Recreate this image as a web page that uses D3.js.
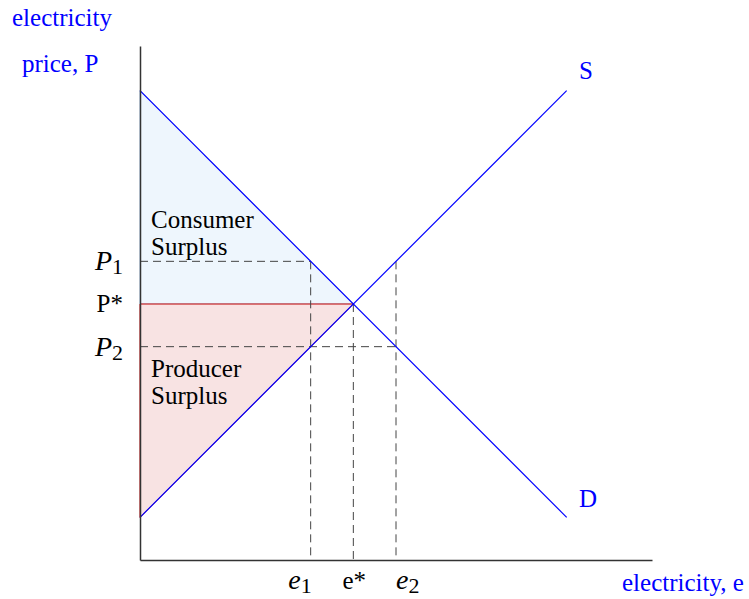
<!DOCTYPE html>
<html>
<head>
<meta charset="utf-8">
<script src="https://cdn.jsdelivr.net/npm/d3@7"></script>
<style>
  body { margin: 0; background: #fff; }
  svg text { font-family: "Liberation Serif", "Times New Roman", serif; }
</style>
</head>
<body>
<div id="chart"></div>
<script>
// supply / demand data (quantity e, price P)
const demand = [[0, 10], [10, 0]];
const supply = [[0, 0], [10, 10]];
const eqQty = 5;
const eqPrice = 5;
const p1 = 6;   // price above equilibrium
const p2 = 4;   // price below equilibrium
const qtyTicks = [4, 5, 6];
const qtyLabels = [['e', '1'], ['e*', ''], ['e', '2']];
const priceTicks = [6, 5, 4];
const priceLabels = [['P', '1'], ['P*', ''], ['P', '2']];

const width = 749, height = 599;
const svg = d3.select('#chart').append('svg')
  .attr('width', width).attr('height', height);

const x = d3.scaleLinear().domain([0, 12]).range([140, 652]);
const y = d3.scaleLinear().domain([-1, 11]).range([560, 48]);

const line = d3.line().x(d => x(d[0])).y(d => y(d[1]));

// consumer surplus
svg.append('path')
  .attr('d', line([[0, demand[0][1]], [eqQty, eqPrice], [0, eqPrice]]) + 'Z')
  .attr('fill', '#eef6fd')
  .attr('stroke', '#a9c6e8')
  .attr('stroke-width', 1);

// producer surplus
svg.append('path')
  .attr('d', line([[0, eqPrice], [eqQty, eqPrice], [0, supply[0][1]]]) + 'Z')
  .attr('fill', '#f8e3e3')
  .attr('stroke', '#c00000')
  .attr('stroke-width', 1);

// dashed guides
const dashes = [
  [[0, p1], [qtyTicks[0], p1]],
  [[qtyTicks[0], p1], [qtyTicks[0], -1]],
  [[qtyTicks[2], p1], [qtyTicks[2], -1]],
  [[0, p2], [qtyTicks[2], p2]],
  [[eqQty, eqPrice], [eqQty, -1]]
];
svg.selectAll('.dash')
  .data(dashes)
  .enter()
  .append('path')
  .attr('class', 'dash')
  .attr('d', d => line(d))
  .attr('fill', 'none')
  .attr('stroke', '#444')
  .attr('stroke-width', 1)
  .attr('stroke-dasharray', '8,5');

// supply and demand curves
svg.selectAll('.curve')
  .data([demand, supply])
  .enter()
  .append('path')
  .attr('class', 'curve')
  .attr('d', d => line(d))
  .attr('fill', 'none')
  .attr('stroke', '#0000ff')
  .attr('stroke-width', 1.2);

// axes (plain lines, no ticks)
svg.append('g')
  .attr('transform', `translate(0,${y(-1)})`)
  .call(d3.axisBottom(x).tickValues([]).tickSizeOuter(0))
  .select('.domain').attr('stroke', '#333').attr('stroke-width', 1.5);
svg.append('g')
  .attr('transform', `translate(${x(0)},0)`)
  .call(d3.axisLeft(y.copy().range([560, 46])).tickValues([]).tickSizeOuter(0))
  .select('.domain').attr('stroke', '#333').attr('stroke-width', 1.5);

// price labels
priceTicks.forEach((p, i) => {
  const t = svg.append('text')
    .attr('x', 123)
    .attr('y', y(p) + (priceLabels[i][1] ? 9 : 8))
    .attr('text-anchor', 'end')
    .attr('fill', '#000');
  if (priceLabels[i][1]) {
    t.append('tspan').attr('font-style', 'italic').attr('font-size', 28).text(priceLabels[i][0]);
    t.append('tspan').attr('font-size', 22).attr('dy', 4).text(priceLabels[i][1]);
  } else {
    t.attr('font-size', 25).text(priceLabels[i][0]);
  }
});

// quantity labels
const qAnchors = ['end', 'middle', 'start'];
const qOffsets = [1, 1, 0];
qtyTicks.forEach((q, i) => {
  const t = svg.append('text')
    .attr('x', x(q) + qOffsets[i])
    .attr('y', 589)
    .attr('text-anchor', qAnchors[i])
    .attr('fill', '#000');
  if (qtyLabels[i][1]) {
    t.append('tspan').attr('font-style', 'italic').attr('font-size', 28).text(qtyLabels[i][0]);
    t.append('tspan').attr('font-size', 22).attr('dy', 4).text(qtyLabels[i][1]);
  } else {
    t.attr('font-size', 25).text(qtyLabels[i][0]);
  }
});

// surplus labels
const areaText = [
  { lines: ['Consumer', 'Surplus'], y: 228 },
  { lines: ['Producer', 'Surplus'], y: 377 }
];
areaText.forEach(a => {
  a.lines.forEach((s, j) => {
    svg.append('text')
      .attr('x', 151)
      .attr('y', a.y + j * 27)
      .attr('font-size', 25)
      .attr('fill', '#000')
      .text(s);
  });
});

// curve names and axis titles (blue)
const blueText = [
  { t: 'S', x: 579, y: 79 },
  { t: 'D', x: 579, y: 507 },
  { t: 'electricity', x: 12, y: 26 },
  { t: 'price, P', x: 22, y: 72 },
  { t: 'electricity, e', x: 622, y: 591 }
];
svg.selectAll('.blue')
  .data(blueText)
  .enter()
  .append('text')
  .attr('class', 'blue')
  .attr('x', d => d.x)
  .attr('y', d => d.y)
  .attr('font-size', 25)
  .attr('fill', '#0000ff')
  .text(d => d.t);
</script>
</body>
</html>
